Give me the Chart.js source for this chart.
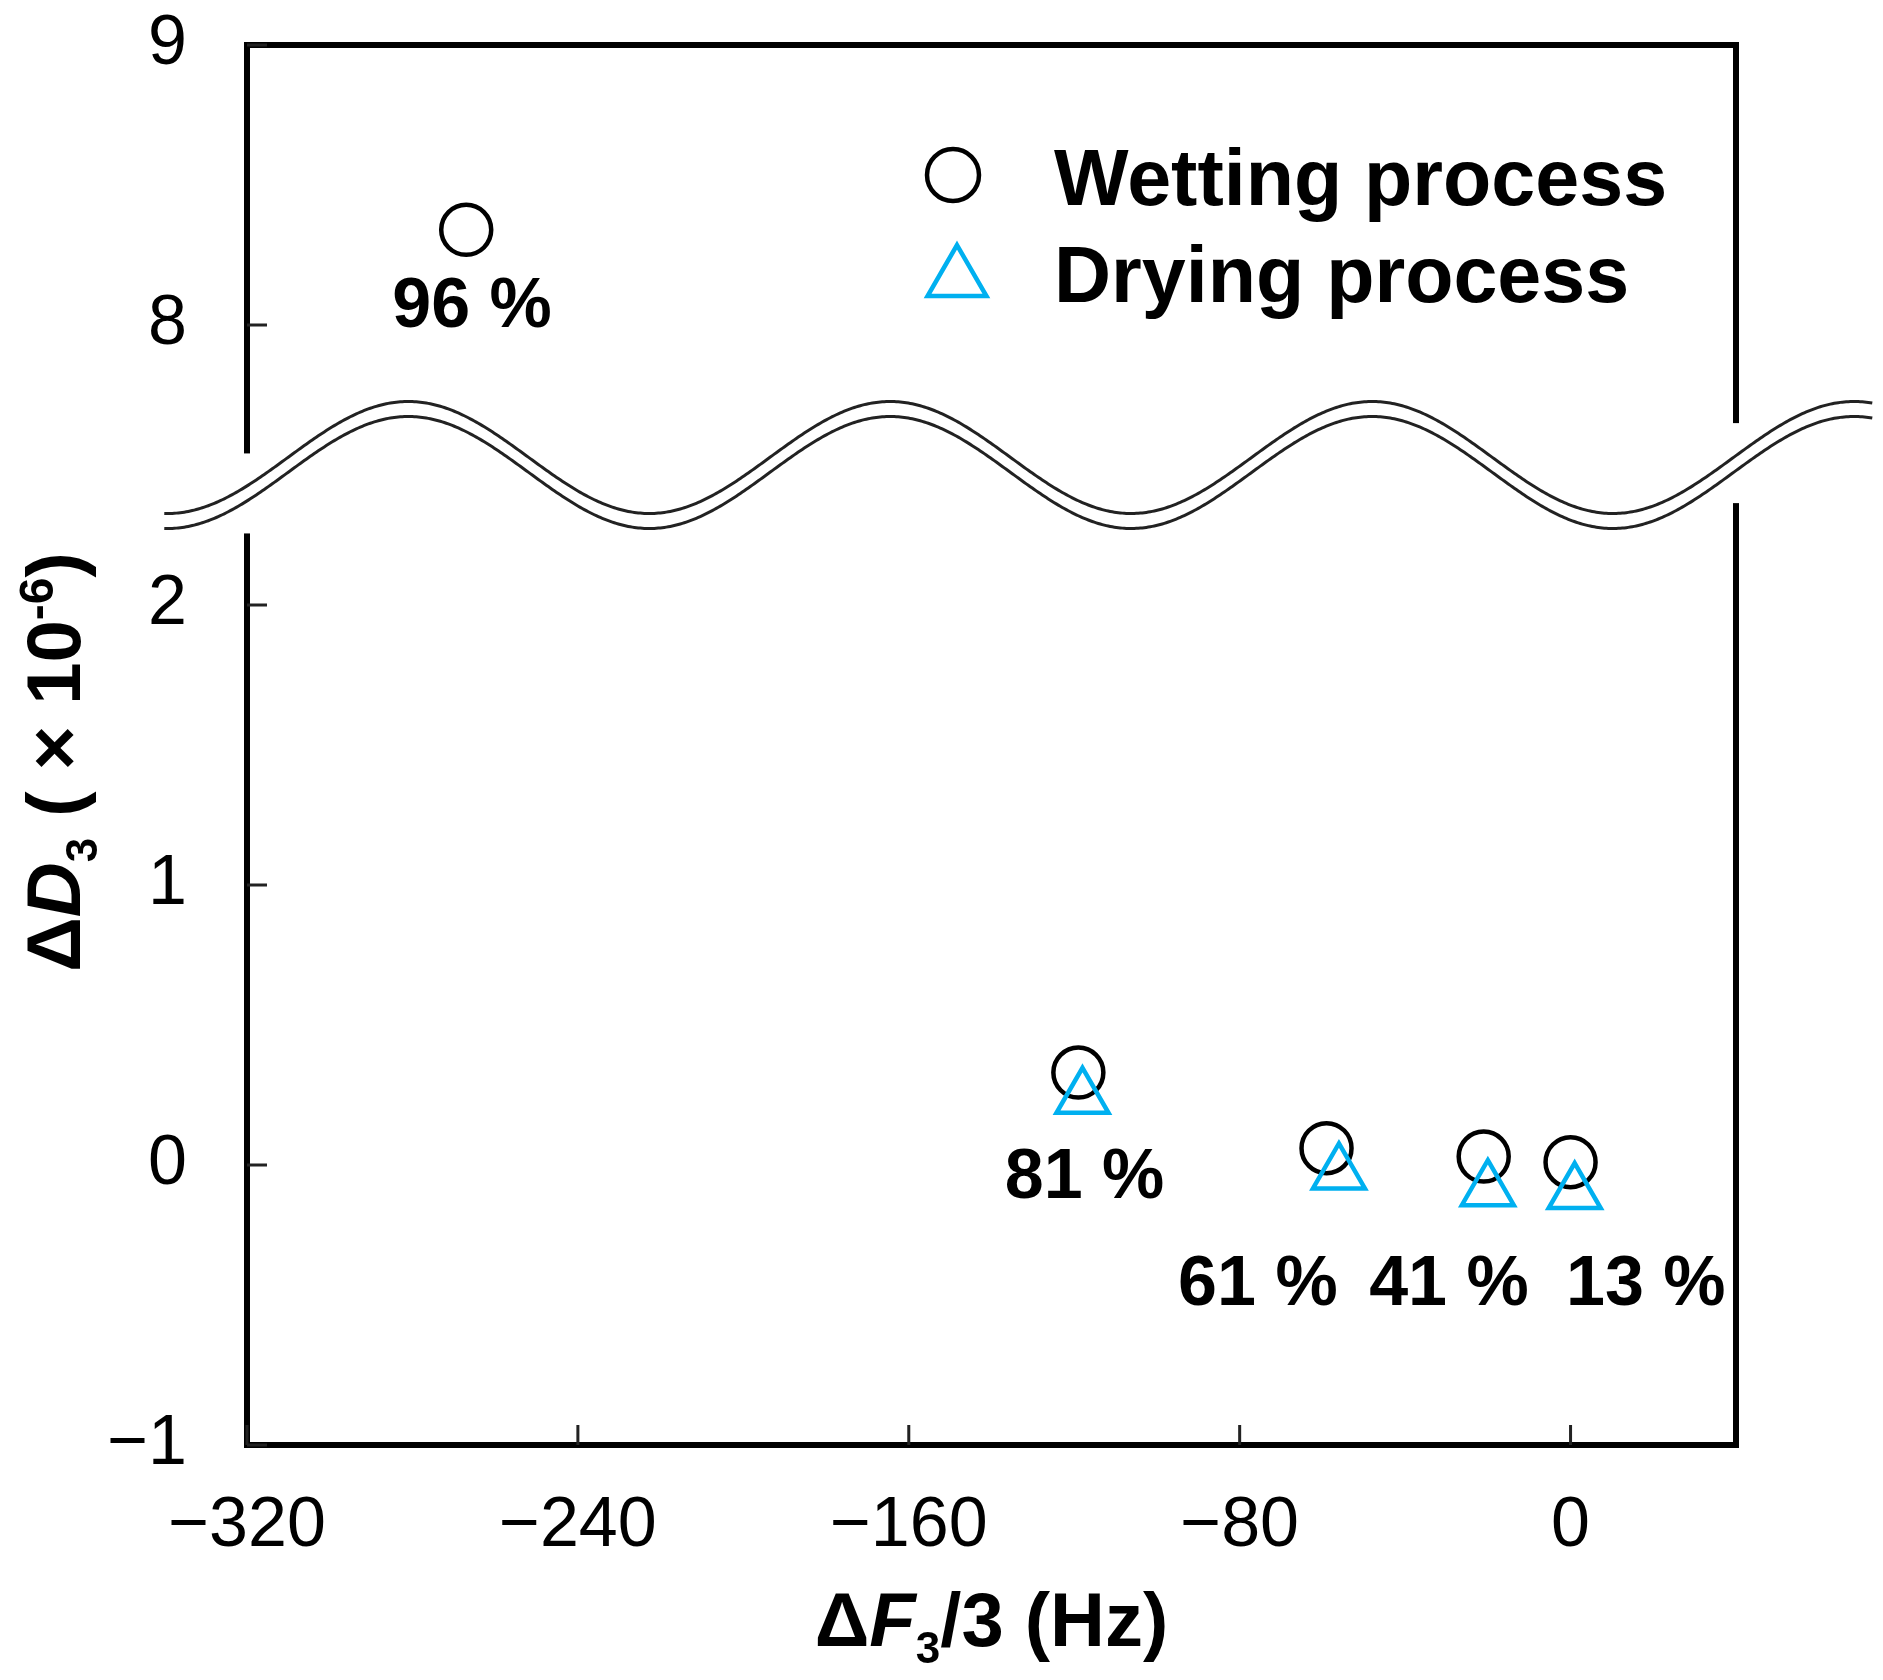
<!DOCTYPE html>
<html>
<head>
<meta charset="utf-8">
<script src="https://cdn.jsdelivr.net/npm/chart.js@4.4.1/dist/chart.umd.min.js"></script>
<style>
html, body { margin: 0; padding: 0; background: #fff; }
#wrap { width: 1883px; height: 1680px; }
</style>
</head>
<body>
<div id="wrap"><canvas id="c" width="1883" height="1680"></canvas></div>
<script>
// valeurs
const wettingX = [-267, -119, -59, -21, 0];
const wettingY = [8.34, 0.33, 0.06, 0.03, 0.01];
const dryingX = [-118, -56, -20, 1];
const dryingY = [0.24, -0.03, -0.09, -0.10];

const humidityLabels = ['96 %', '81 %', '61 %', '41 %', '13 %'];
const labelX = [-265.6, -117.5, -75.6, -29.4, 18.2];
const labelY = [8.06, -0.05, -0.43, -0.43, -0.43];

const xTicks = [-320, -240, -160, -80, 0];
const yTicks = [-1, 0, 1, 2, 8, 9];
const yTickLabels = ['−1', '0', '1', '2', '8', '9'];
const legendLabels = ['Wetting process', 'Drying process'];

// axe y coupé entre 2 et 8
const BREAK_LOW = 2, BREAK_HIGH = 8, BREAK_GAP = 1;
function toAxis(v) {
    return v >= BREAK_HIGH ? v - (BREAK_HIGH - BREAK_LOW - BREAK_GAP) : v;
}

const FONT = "'Liberation Sans', Arial, sans-serif";
const CYAN = '#00B0F0';

// texte avec indices / exposants
function drawRich(ctx, parts, cx, baseY) {
    let total = 0;
    for (let p of parts) {
        ctx.font = p.font;
        p.w = ctx.measureText(p.t).width;
        total += p.w;
    }
    let x = cx - total / 2;
    ctx.textAlign = 'left';
    ctx.textBaseline = 'alphabetic';
    for (let p of parts) {
        ctx.font = p.font;
        ctx.fillText(p.t, x, baseY + (p.dy || 0));
        x += p.w;
    }
}

const decorPlugin = {
    id: 'decor',
    beforeDatasetsDraw(chart) {
        const ctx = chart.ctx;
        const a = chart.chartArea;
        const xs = chart.scales.x, ys = chart.scales.y;
        ctx.save();
        // cadre
        ctx.strokeStyle = '#000';
        ctx.lineWidth = 6;
        ctx.strokeRect(a.left, a.top, a.right - a.left, a.bottom - a.top);
        // graduations vers l'intérieur
        ctx.lineWidth = 3;
        ctx.strokeStyle = '#222';
        ctx.beginPath();
        for (let v of xTicks) {
            const px = xs.getPixelForValue(v);
            ctx.moveTo(px, a.bottom);
            ctx.lineTo(px, a.bottom - 20);
        }
        for (let v of yTicks) {
            const py = ys.getPixelForValue(toAxis(v));
            ctx.moveTo(a.left, py);
            ctx.lineTo(a.left + 20, py);
        }
        ctx.stroke();
        ctx.restore();
    },
    afterDatasetsDraw(chart) {
        const ctx = chart.ctx;
        const a = chart.chartArea;
        const xs = chart.scales.x, ys = chart.scales.y;
        ctx.save();

        // vague de coupure
        const unitY = ys.getPixelForValue(0) - ys.getPixelForValue(1);
        const cy = ys.getPixelForValue(2.5);
        const amp = unitY * 0.2;
        const sep = 15;
        const peak = xs.getPixelForValue(-281);
        const period = xs.getPixelForValue(-281 + 116.5) - peak;
        const x0 = xs.getPixelForValue(-340), x1 = xs.getPixelForValue(73);
        const waveY = px => cy - amp * Math.cos(2 * Math.PI * (px - peak) / period);

        ctx.fillStyle = '#fff';
        for (let ex of [a.left, a.right]) {
            const wy = waveY(ex);
            ctx.fillRect(ex - 6, wy - 40, 12, 80);
        }
        const tracePath = off => {
            ctx.beginPath();
            for (let px = x0; px <= x1; px += 2) {
                const py = waveY(px) + off;
                if (px === x0) ctx.moveTo(px, py); else ctx.lineTo(px, py);
            }
        };
        ctx.strokeStyle = '#fff';
        ctx.lineWidth = sep;
        tracePath(0);
        ctx.stroke();
        ctx.strokeStyle = '#222';
        ctx.lineWidth = 3;
        tracePath(-sep / 2);
        ctx.stroke();
        tracePath(sep / 2);
        ctx.stroke();

        // étiquettes d'humidité
        ctx.fillStyle = '#000';
        ctx.font = 'bold 70px ' + FONT;
        ctx.textAlign = 'center';
        ctx.textBaseline = 'middle';
        for (let i = 0; i < humidityLabels.length; i++) {
            ctx.fillText(humidityLabels[i],
                xs.getPixelForValue(labelX[i]),
                ys.getPixelForValue(toAxis(labelY[i])));
        }

        // légende
        const lx = a.left + 706;
        ctx.lineWidth = 4.5;
        ctx.strokeStyle = '#000';
        ctx.beginPath();
        ctx.arc(lx, 175, 26, 0, Math.PI * 2);
        ctx.stroke();
        ctx.strokeStyle = CYAN;
        const tr = 34, tcx = lx + 4, tcy = 279;
        ctx.beginPath();
        for (let k = 0; k < 3; k++) {
            const ang = -Math.PI / 2 + k * 2 * Math.PI / 3;
            const px = tcx + tr * Math.cos(ang), py = tcy + tr * Math.sin(ang);
            if (k === 0) ctx.moveTo(px, py); else ctx.lineTo(px, py);
        }
        ctx.closePath();
        ctx.stroke();
        ctx.fillStyle = '#000';
        ctx.font = 'bold 79px ' + FONT;
        ctx.textAlign = 'left';
        ctx.textBaseline = 'alphabetic';
        ctx.fillText(legendLabels[0], lx + 101, 205);
        ctx.fillText(legendLabels[1], lx + 101, 302);

        // titres des axes
        const B = 'bold 76px ' + FONT, BI = 'italic bold 76px ' + FONT;
        const S = 'bold 44px ' + FONT;
        drawRich(ctx, [
            { t: 'Δ', font: B },
            { t: 'F', font: BI },
            { t: '3', font: S, dy: 17 },
            { t: '/3 (Hz)', font: B }
        ], (a.left + a.right) / 2, 1646);

        ctx.translate(80, 762);
        ctx.rotate(-Math.PI / 2);
        drawRich(ctx, [
            { t: 'Δ', font: B },
            { t: 'D', font: BI },
            { t: '3', font: S, dy: 17 },
            { t: ' ( × 10', font: B },
            { t: '-6', font: 'bold 48px ' + FONT, dy: -27 },
            { t: ')', font: B }
        ], 0, 0);
        ctx.restore();
    }
};

const config = {
    type: 'scatter',
    data: {
        datasets: [
            {
                label: legendLabels[0],
                data: wettingX.map((x, i) => ({ x: x, y: toAxis(wettingY[i]) })),
                pointStyle: 'circle',
                pointRadius: 25,
                pointBorderWidth: 4.5,
                pointBorderColor: '#000',
                pointBackgroundColor: 'rgba(0,0,0,0)',
                showLine: false,
                order: 1
            },
            {
                label: legendLabels[1],
                data: dryingX.map((x, i) => ({ x: x, y: toAxis(dryingY[i]) })),
                pointStyle: 'triangle',
                pointRadius: 30,
                pointBorderWidth: 4.5,
                pointBorderColor: CYAN,
                pointBackgroundColor: 'rgba(0,0,0,0)',
                showLine: false,
                order: 0
            }
        ]
    },
    options: {
        responsive: false,
        devicePixelRatio: 1,
        animation: false,
        layout: { autoPadding: false, padding: { left: 0, right: 147, top: 45, bottom: 0 } },
        plugins: { legend: { display: false }, tooltip: { enabled: false } },
        scales: {
            x: {
                type: 'linear',
                min: -320,
                max: 40,
                afterFit: s => {
                    s.height = 235;
                    s.paddingLeft = 0;
                    s.paddingRight = 0;
                },
                afterBuildTicks: s => { s.ticks = xTicks.map(v => ({ value: v })); },
                grid: { display: false, drawTicks: false },
                border: { display: false },
                ticks: {
                    font: { family: FONT, size: 70 },
                    color: '#000',
                    padding: 40,
                    maxRotation: 0,
                    autoSkip: false,
                    callback: v => String(v).replace('-', '−')
                }
            },
            y: {
                type: 'linear',
                min: -1,
                max: 4,
                afterFit: s => {
                    s.width = 247;
                    s.paddingTop = 0;
                    s.paddingBottom = 0;
                },
                afterBuildTicks: s => { s.ticks = yTicks.map(v => ({ value: toAxis(v) })); },
                grid: { display: false, drawTicks: false },
                border: { display: false },
                ticks: {
                    font: { family: FONT, size: 70 },
                    color: '#000',
                    padding: 60,
                    autoSkip: false,
                    callback: v => {
                        const i = yTicks.findIndex(t => toAxis(t) === v);
                        return i >= 0 ? yTickLabels[i] : '';
                    }
                }
            }
        }
    },
    plugins: [decorPlugin]
};

new Chart(document.getElementById('c'), config);
</script>
</body>
</html>
